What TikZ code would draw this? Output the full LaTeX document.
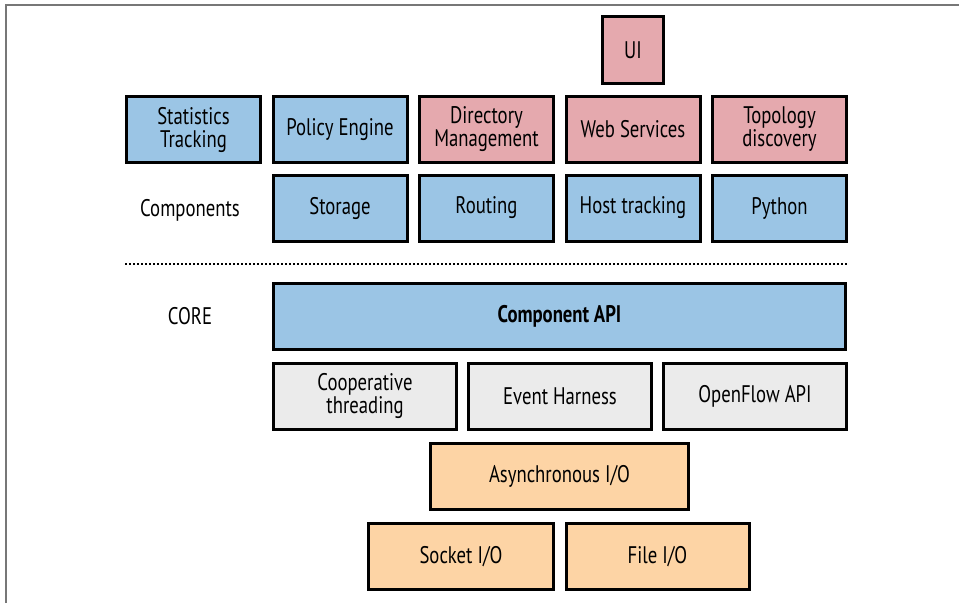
\documentclass[tikz,border=0pt]{standalone}
\usepackage{fontspec}
\setmainfont[FakeStretch=0.78]{PT Sans}
\usetikzlibrary{positioning}
\definecolor{compblue}{HTML}{9BC5E5}
\definecolor{apppink}{HTML}{E5A9AE}
\definecolor{coregray}{HTML}{EBEBEB}
\definecolor{ioorange}{HTML}{FDD4A5}
\definecolor{framegray}{HTML}{777777}

\begin{document}
\begin{tikzpicture}[x=1pt,y=-1pt,node distance=9.5pt,
  box/.style={draw=black,line width=3pt,align=center,minimum width=134pt,minimum height=66pt,font=\fontsize{24}{23}\selectfont,inner sep=2pt},
  blue/.style={box,fill=compblue},
  pink/.style={box,fill=apppink},
  grey/.style={box,fill=coregray,minimum width=183pt},
  orange/.style={box,fill=ioorange,minimum width=183pt},
  lbl/.style={font=\fontsize{24}{23}\selectfont}]
\useasboundingbox (0,0) rectangle (959,603);
\draw[framegray,line width=1.5pt] (6,603) -- (6,5) -- (959,5);
% components
\node[blue] (stats) at (193.5,129.5) {Statistics\\Tracking};
\node[blue,right=of stats] (policy) {Policy Engine};
\node[pink,right=of policy] (dirmgmt) {Directory\\Management};
\node[pink,right=of dirmgmt] (websvc) {Web Services};
\node[pink,right=of websvc] (topo) {Topology\\discovery};
\node[pink,minimum width=61pt,minimum height=67pt,above=10pt of websvc] (ui) {UI};
\node[blue,below=of policy] (storage) {Storage};
\node[blue,right=of storage] (routing) {Routing};
\node[blue,right=of routing] (hosttrack) {Host tracking};
\node[blue,right=of hosttrack] (python) {Python};
\node[lbl] (complbl) at (190,210) {Components};
\draw[line width=2.5pt,dash pattern=on 2pt off 2pt] (125,264) -- (847,264);
% core
\node[lbl] (corelbl) at (190,316) {CORE};
\node[blue,minimum width=572pt,font=\fontsize{24}{23}\selectfont\bfseries] (compapi) at (559.5,316) {Component API};
\node[grey] (coop) at (365,396) {Cooperative\\threading};
\node[grey,right=9pt of coop] (events) {Event Harness};
\node[grey,right=9pt of events] (ofapi) {OpenFlow API};
\node[orange,minimum width=258pt] (asyncio) at (559.5,476.5) {Asynchronous I/O};
\node[orange,minimum width=185pt] (sockio) at (461,556.5) {Socket I/O};
\node[orange,right=of sockio] (fileio) {File I/O};
\end{tikzpicture}
\end{document}
